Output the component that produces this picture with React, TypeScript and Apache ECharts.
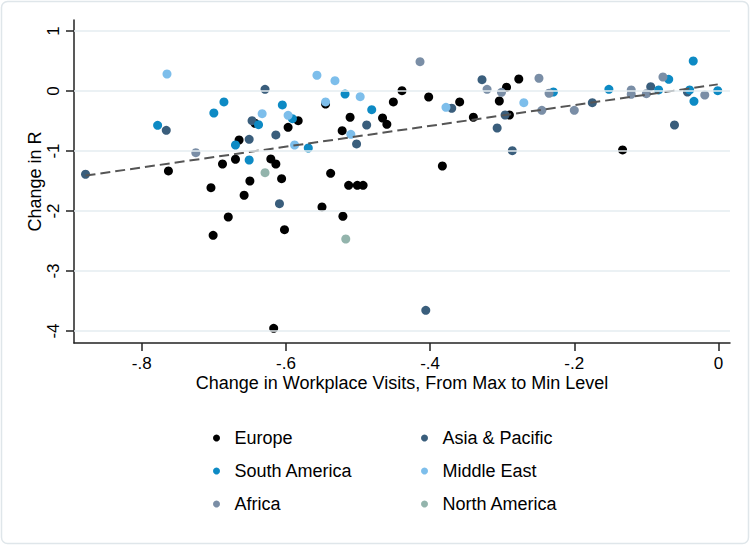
import React, { useEffect, useRef } from "react";
import * as echarts from "echarts";

type Pt = [number, number];

const europe: Pt[] = [
  [-0.643, -0.538], [-0.597, -0.605], [-0.583, -0.495], [-0.665, -0.817], [-0.670, -1.138],
  [-0.688, -1.217], [-0.621, -1.133], [-0.614, -1.217], [-0.763, -1.333], [-0.650, -1.5],
  [-0.606, -1.462], [-0.704, -1.612], [-0.658, -1.738], [-0.680, -2.1], [-0.701, -2.405],
  [-0.602, -2.312], [-0.538, -1.372], [-0.513, -1.572], [-0.501, -1.572], [-0.493, -1.572],
  [-0.550, -1.933], [-0.521, -2.088], [-0.617, -3.955], [-0.545, -0.217], [-0.511, -0.438],
  [-0.522, -0.662], [-0.466, -0.45], [-0.460, -0.555], [-0.439, 0.005], [-0.451, -0.183],
  [-0.402, -0.1], [-0.359, -0.183], [-0.340, -0.438], [-0.294, 0.062], [-0.277, 0.2],
  [-0.304, -0.167], [-0.290, -0.4], [-0.383, -1.25], [-0.133, -0.983],
];

const asiaPacific: Pt[] = [
  [-0.878, -1.388], [-0.629, 0.028], [-0.766, -0.655], [-0.647, -0.495], [-0.614, -0.733],
  [-0.651, -0.805], [-0.488, -0.567], [-0.502, -0.883], [-0.609, -1.878], [-0.370, -0.288],
  [-0.328, 0.188], [-0.296, -0.4], [-0.307, -0.617], [-0.286, -0.995], [-0.175, -0.195],
  [-0.094, 0.072], [-0.043, -0.017], [-0.061, -0.567], [-0.406, -3.655],
];

const southAmerica: Pt[] = [
  [-0.686, -0.183], [-0.700, -0.367], [-0.778, -0.572], [-0.638, -0.562], [-0.605, -0.233],
  [-0.591, -0.462], [-0.670, -0.9], [-0.651, -1.15], [-0.518, -0.05], [-0.481, -0.312],
  [-0.569, -0.95], [-0.229, -0.017], [-0.152, 0.028], [-0.083, 0.017], [-0.069, 0.195],
  [-0.035, 0.5], [-0.040, 0.017], [-0.034, -0.172], [-0.001, 0.005],
];

const middleEast: Pt[] = [
  [-0.765, 0.283], [-0.633, -0.378], [-0.597, -0.405], [-0.588, -0.9], [-0.557, 0.262],
  [-0.532, 0.172], [-0.497, -0.095], [-0.545, -0.183], [-0.510, -0.722], [-0.378, -0.272],
  [-0.270, -0.195],
];

const africa: Pt[] = [
  [-0.725, -1.028], [-0.414, 0.488], [-0.321, 0.028], [-0.301, -0.022], [-0.249, 0.212],
  [-0.235, -0.038], [-0.245, -0.322], [-0.200, -0.322], [-0.121, 0.017], [-0.121, -0.055],
  [-0.100, -0.045], [-0.077, 0.233], [-0.019, -0.067],
];

const northAmerica: Pt[] = [
  [-0.629, -1.362], [-0.517, -2.467],
];

const fitLine: Pt[] = [[-0.878, -1.41], [-0.001, 0.11]];

const xTicks = [-0.8, -0.6, -0.4, -0.2, 0];
const yTicks = [-4, -3, -2, -1, 0, 1];
const xRange = [-0.894, 0.016];
const yRange = [-4.2, 1.183];

const regions = [
  { name: "Europe", data: europe, color: "#000000" },
  { name: "Asia & Pacific", data: asiaPacific, color: "#3a5e7c" },
  { name: "South America", data: southAmerica, color: "#0d8ac4" },
  { name: "Middle East", data: middleEast, color: "#7dbeeb" },
  { name: "Africa", data: africa, color: "#7a8ea6" },
  { name: "North America", data: northAmerica, color: "#93b4ac" },
];

const FONT = "'Liberation Sans', Arial, Helvetica, sans-serif";

export default function App() {
  const ref = useRef<HTMLDivElement>(null);
  useEffect(() => {
    if (!ref.current) return;
    const chart = echarts.init(ref.current, null, { renderer: "svg" });
    const legendBase = {
      orient: "vertical" as const,
      icon: "circle",
      itemWidth: 26,
      itemHeight: 7,
      itemGap: 13,
      textStyle: { fontSize: 18, fontFamily: FONT, color: "#000", lineHeight: 20 },
      selectedMode: false,
    };
    chart.setOption({
      animation: false,
      backgroundColor: "#ffffff",
      textStyle: { fontFamily: FONT },
      grid: { left: 74, right: 20, top: 20, bottom: 202, containLabel: false },
      graphic: [
        {
          type: "rect",
          shape: { x: 1.5, y: 1.5, width: 747, height: 542, r: 6 },
          style: { fill: "none", stroke: "#dfe6ea", lineWidth: 1.5 },
          silent: true,
        },
      ],
      legend: [
        { ...legendBase, left: 208, top: 423, data: ["Europe", "South America", "Africa"] },
        { ...legendBase, left: 416, top: 423, data: ["Asia & Pacific", "Middle East", "North America"] },
      ],
      xAxis: {
        type: "value",
        min: xRange[0],
        max: xRange[1],
        name: "Change in Workplace Visits, From Max to Min Level",
        nameLocation: "middle",
        nameGap: 31,
        nameMoveOverlap: false,
        nameTextStyle: { fontSize: 18, fontFamily: FONT, color: "#000" },
        axisLine: { show: true, onZero: false, lineStyle: { color: "#222", width: 1.5 } },
        axisTick: { show: true, length: 8, customValues: xTicks, lineStyle: { color: "#222", width: 1.5 } },
        axisLabel: {
          customValues: xTicks,
          margin: 12,
          fontSize: 17,
          fontFamily: FONT,
          color: "#000",
          formatter: (v: number) => (Math.abs(v) < 1e-9 ? "0" : v.toFixed(1).replace("0.", ".")),
        },
        splitLine: { show: false },
      },
      yAxis: {
        type: "value",
        min: yRange[0],
        max: yRange[1],
        name: "Change in R",
        nameLocation: "middle",
        nameGap: 30,
        nameMoveOverlap: false,
        nameTextStyle: { fontSize: 18, fontFamily: FONT, color: "#000" },
        axisLine: { show: true, onZero: false, lineStyle: { color: "#222", width: 1.5 } },
        axisTick: { show: true, length: 8, customValues: yTicks, lineStyle: { color: "#222", width: 1.5 } },
        axisLabel: {
          customValues: yTicks,
          rotate: 90,
          margin: 12,
          fontSize: 17,
          fontFamily: FONT,
          color: "#000",
          formatter: (v: number) => String(Math.round(v)),
        },
        splitLine: { show: false },
      },
      series: [
        {
          name: "grid",
          type: "line",
          data: [],
          z: 0,
          silent: true,
          markLine: {
            silent: true,
            symbol: "none",
            label: { show: false },
            lineStyle: { color: "#e4edf0", width: 1.5, type: "solid" },
            data: yTicks.map((v) => ({ yAxis: v })),
          },
        },
        ...regions.map((r) => ({
          name: r.name,
          type: "scatter",
          data: r.data,
          symbol: "circle",
          symbolSize: 9,
          itemStyle: { color: r.color, opacity: 1 },
          z: 2,
        })),
        {
          name: "fit",
          type: "line",
          data: fitLine,
          symbol: "none",
          lineStyle: { color: "#555", width: 2, type: [10, 5] },
          z: 3,
          silent: true,
        },
      ],
    });
    return () => chart.dispose();
  }, []);
  return (
    <div
      ref={ref}
      style={{ position: "absolute", left: 0, top: 0, width: 750, height: 545, background: "#fff" }}
    />
  );
}
